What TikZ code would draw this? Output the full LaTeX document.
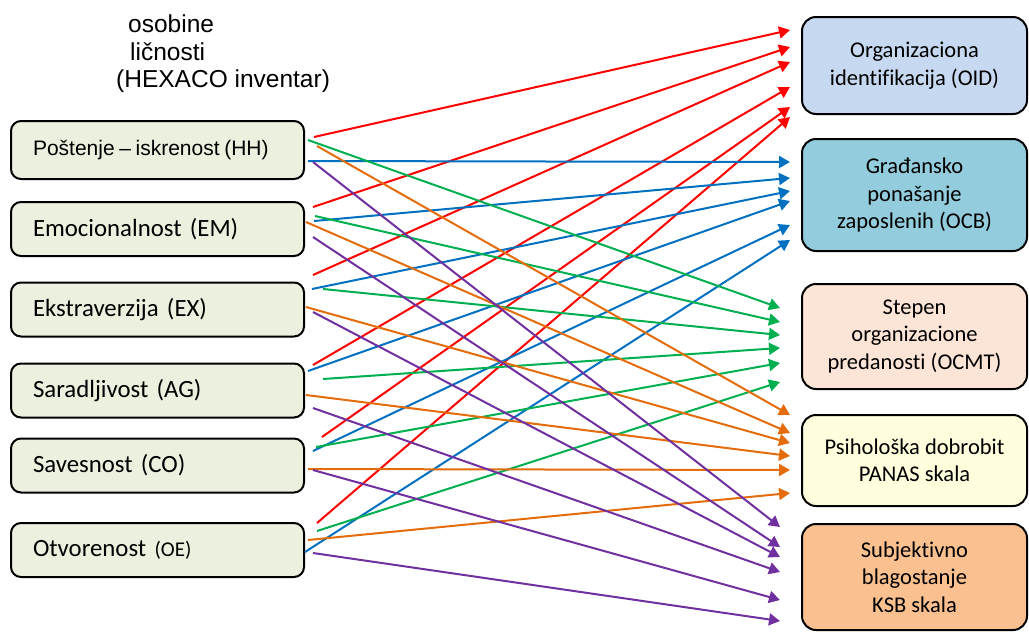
\documentclass[tikz,border=0pt]{standalone}
\usepackage{fontspec}
\setmainfont{Carlito}[Ligatures=CommonOff]
\newfontfamily\arialfont{Liberation Sans}
\usetikzlibrary{arrows.meta,positioning}

\definecolor{traitfill}{RGB}{235,241,222}
\definecolor{oidfill}{RGB}{198,217,240}
\definecolor{ocbfill}{RGB}{147,205,221}
\definecolor{ocmtfill}{RGB}{252,229,215}
\definecolor{panasfill}{RGB}{255,255,221}
\definecolor{ksbfill}{RGB}{250,192,144}
\definecolor{arrred}{RGB}{255,0,0}
\definecolor{arrblue}{RGB}{0,112,192}
\definecolor{arrgreen}{RGB}{0,176,80}
\definecolor{arrorange}{RGB}{228,108,10}
\definecolor{arrpurple}{RGB}{112,48,160}

\tikzset{
    trait/.style={draw, line width=2pt, rounded corners=10pt, fill=traitfill,
        minimum height=54pt, text width=249pt, inner xsep=22pt, align=left,
        font=\fontsize{24.8}{29}\selectfont},
    outcome/.style={draw, line width=2pt, rounded corners=14pt, minimum width=225pt,
        align=center, font=\fontsize{22.5}{27.5}\selectfont},
    heading/.style={anchor=base west, inner sep=0pt, font=\arialfont\fontsize{24.5}{28}\selectfont},
    link/.style={line width=2pt, -{Triangle[length=11pt,width=12pt]}},
}

\begin{document}
\begin{tikzpicture}[x=1pt,y=-1pt]
    \useasboundingbox (0,0) rectangle (1029,633);

    % naslov
    \node[heading] (title1) at (128,32) {osobine};
    \node[heading] (title2) at (130,60) {ličnosti};
    \node[heading] (title3) at (116,87) {(HEXACO inventar)};

    % osobine licnosti
    \node[trait, minimum height=58pt] (hh) at (157.5,150)
        {\arialfont\fontsize{21}{25}\selectfont\spaceskip=0.22em Poštenje – iskrenost (HH)};
    \node[trait] (em) at (157.5,229) {Emocionalnost (EM)};
    \node[trait] (ex) at (157.5,309.5) {Ekstraverzija (EX)};
    \node[trait] (ag) at (157.5,390.5) {Saradljivost (AG)};
    \node[trait] (co) at (157.5,465.5) {Savesnost (CO)};
    \node[trait] (oe) at (157.5,550) {Otvorenost {\fontsize{21}{25}\selectfont(OE)}};

    % ishodi
    \node[outcome, fill=oidfill, minimum height=97pt] (oid) at (914.5,65.5) {Organizaciona\\identifikacija (OID)};
    \node[outcome, fill=ocbfill, minimum height=112pt] (ocb) at (914.5,195) {Građansko\\ponašanje\\zaposlenih (OCB)};
    \node[outcome, fill=ocmtfill, minimum height=105pt] (ocmt) at (914.5,336.5) {Stepen\\organizacione\\predanosti (OCMT)};
    \node[outcome, fill=panasfill, minimum height=91pt] (panas) at (914.5,460.5) {Psihološka dobrobit\\PANAS skala};
    \node[outcome, fill=ksbfill, minimum height=106pt] (ksb) at (914.5,577) {Subjektivno\\blagostanje\\KSB skala};

    % veze
    \foreach \src/\sx/\sy/\ty in {hh/9/-13/-35.5, em/8/-22/-18.5, ex/8/-34.5/-3.5,
            ag/8/-25.5/21.5, co/17/-28.5/41.5, oe/12/-27/51.5}
        \draw[link, arrred] ([shift={(\sx,\sy)}]\src.east) -- ([shift={(-11,\ty)}]oid.west);
    \foreach \src/\sx/\sy/\ty in {hh/3/11/-33, em/9/-8/-17, ex/7/-20.5/-4,
            ag/3/-19.5/6, co/8/-14.5/30, oe/0/2/45}
        \draw[link, arrblue] ([shift={(\sx,\sy)}]\src.east) -- ([shift={(-11,\ty)}]ocb.west);
    \foreach \src/\sx/\sy/\ty in {hh/3/-10/-28.5, em/10/-13/-14.5, ex/18/-20.5/-1.5,
            ag/18/-11.5/11.5, co/11/-18.5/26.5, oe/12/-19/45.5}
        \draw[link, arrgreen] ([shift={(\sx,\sy)}]\src.east) -- ([shift={(-21,\ty)}]ocmt.west);
    \foreach \src/\sx/\sy/\ty in {hh/12/-4/-45.5, em/1/-7/-27.5, ex/1/-2.5/-17.5,
            ag/1/4.5/-4.5, co/3/3.5/9.5, oe/3/-10/32.5}
        \draw[link, arrorange] ([shift={(\sx,\sy)}]\src.east) -- ([shift={(-11,\ty)}]panas.west);
    \foreach \src/\sx/\sy/\ty in {hh/8/12/-50, em/8/8/-30, ex/8/2.5/-20,
            ag/8/17.5/-5, co/8/4.5/23, oe/8/3/44}
        \draw[link, arrpurple] ([shift={(\sx,\sy)}]\src.east) -- ([shift={(-21,\ty)}]ksb.west);
\end{tikzpicture}
\end{document}
